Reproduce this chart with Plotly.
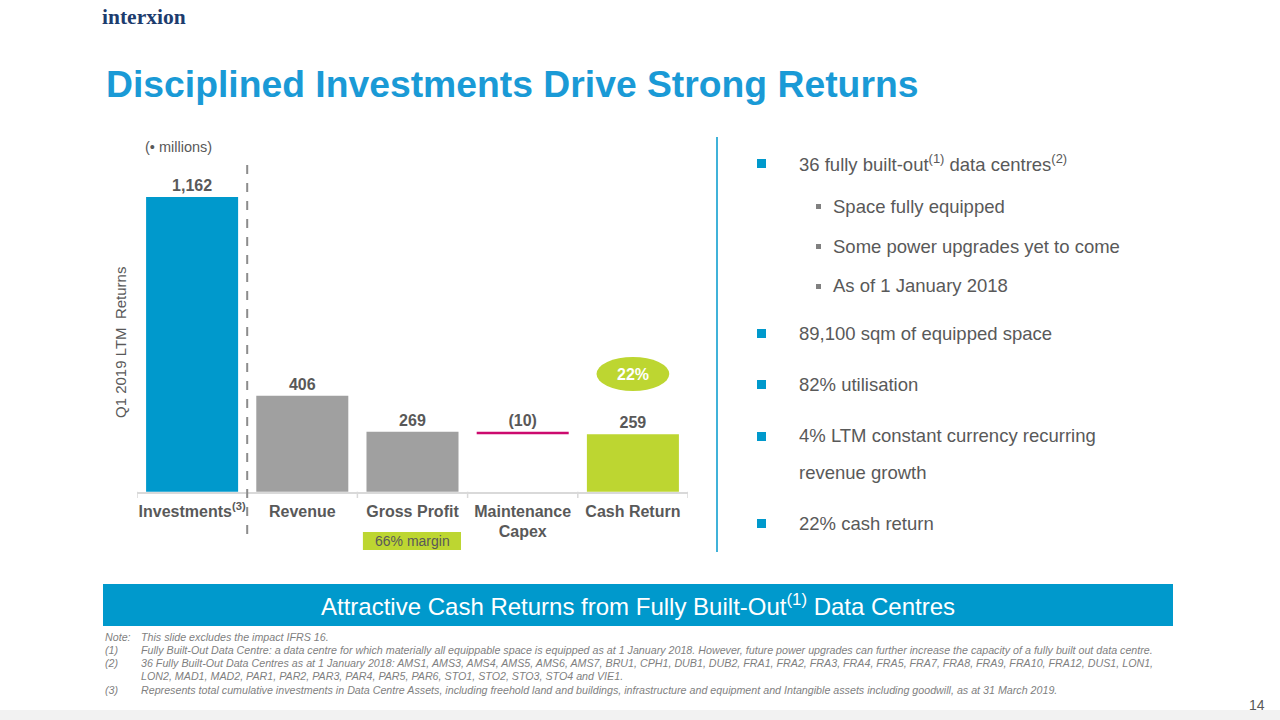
import plotly.graph_objects as go

# ---- data ----
categories = ["Investments<sup>(3)</sup>", "Revenue", "Gross Profit", "Maintenance<br>Capex", "Cash Return"]
values = [1162, 406, 269, 10, 259]
bases = [0, 0, 0, 259, 0]
labels = ["1,162", "406", "269", "(10)", "259"]
bar_colors = ["#0099CC", "#A0A0A0", "#A0A0A0", "#CC0A6E", "#BDD631"]

bullets = [
    ("main", "36 fully built-out<sup>(1)</sup> data centres<sup>(2)</sup>", 163),
    ("sub", "Space fully equipped", 206),
    ("sub", "Some power upgrades yet to come", 246),
    ("sub", "As of 1 January 2018", 286),
    ("main", "89,100 sqm of equipped space", 333),
    ("main", "82% utilisation", 384),
    ("main", "4% LTM constant currency recurring", 436),
    ("cont", "revenue growth", 472),
    ("main", "22% cash return", 523),
]

footnotes = [
    ("Note:", "This slide excludes the impact IFRS 16.", 637),
    ("(1)", "Fully Built-Out Data Centre: a data centre for which materially all equippable space is equipped as at 1 January 2018. However, future power upgrades can further increase the capacity of a fully built out data centre.", 650),
    ("(2)", "36 Fully Built-Out Data Centres as at 1 January 2018: AMS1, AMS3, AMS4, AMS5, AMS6, AMS7, BRU1, CPH1, DUB1, DUB2, FRA1, FRA2, FRA3, FRA4, FRA5, FRA7, FRA8, FRA9, FRA10, FRA12, DUS1, LON1,", 663),
    ("", "LON2, MAD1, MAD2, PAR1, PAR2, PAR3, PAR4, PAR5, PAR6, STO1, STO2, STO3, STO4 and VIE1.", 676),
    ("(3)", "Represents total cumulative investments in Data Centre Assets, including freehold land and buildings, infrastructure and equipment and Intangible assets including goodwill, as at 31 March 2019.", 690),
]

W, H = 1280, 720
FONT = "Liberation Sans, Arial, sans-serif"
GRAY = "#595959"

def px(x):
    return x / W

def py(y):
    return 1 - y / H

fig = go.Figure()
fig.add_trace(go.Bar(
    x=list(range(len(categories))), y=values, base=bases,
    marker=dict(color=bar_colors, line=dict(width=0)),
    text=[f"<b>{t}</b>" for t in labels], textposition="outside",
    textfont=dict(family=FONT, size=16, color=GRAY),
    cliponaxis=True, width=0.835, hoverinfo="skip",
))

fig.update_layout(
    width=W, height=H, margin=dict(l=0, r=0, t=0, b=0),
    paper_bgcolor="white", plot_bgcolor="white", showlegend=False,
    font=dict(family=FONT, color=GRAY),
    xaxis=dict(domain=[px(137), px(688)], tickmode="array",
               tickvals=list(range(len(categories))),
               ticktext=[f"<b>{c}</b>" for c in categories],
               tickfont=dict(family=FONT, size=16, color=GRAY),
               ticklabelstandoff=4,
               showline=True, linecolor="#D9D9D9", linewidth=1.5,
               ticks="", showgrid=False, zeroline=False,
               range=[-0.5, 4.5], fixedrange=True),
    yaxis=dict(domain=[py(491.7), py(165)], range=[40.7, 1284], visible=False,
               showgrid=False, zeroline=False, fixedrange=True),
)

shapes = []
# tick marks at category boundaries
for b in [-0.5, 0.5, 1.5, 2.5, 3.5, 4.5]:
    shapes.append(dict(type="line", xref="x", yref="paper", x0=b, x1=b,
                       y0=py(491.7), y1=py(498), line=dict(color="#D9D9D9", width=1.5)))
# dashed separator
shapes.append(dict(type="line", xref="x", yref="paper", x0=0.5, x1=0.5,
                   y0=py(165), y1=py(540), line=dict(color="#8C8C8C", width=2, dash="dash")))
# 22% oval
shapes.append(dict(type="circle", xref="x", yref="y", x0=3.67, x1=4.33, y0=424, y1=553,
                   fillcolor="#BDD631", line=dict(width=0)))
# 66% margin box
shapes.append(dict(type="rect", xref="x", yref="paper", x0=1.55, x1=2.44,
                   y0=py(550), y1=py(532), fillcolor="#BDD631", line=dict(width=0)))
# right vertical divider
shapes.append(dict(type="line", xref="paper", yref="paper", x0=px(717), x1=px(717),
                   y0=py(137), y1=py(552), line=dict(color="#0099CC", width=1.5)))
# bottom band
shapes.append(dict(type="rect", xref="paper", yref="paper", x0=px(103), x1=px(1173),
                   y0=py(626), y1=py(584), fillcolor="#0099CC", line=dict(width=0)))
# bottom strip
shapes.append(dict(type="rect", xref="paper", yref="paper", x0=0, x1=1,
                   y0=0, y1=py(710), fillcolor="#F2F2F2", line=dict(width=0)))
# bullet squares
for kind, text, y in bullets:
    if kind == "main":
        shapes.append(dict(type="rect", xref="paper", yref="paper", x0=px(757), x1=px(766),
                           y0=py(y + 5), y1=py(y - 4), fillcolor="#0099CC", line=dict(width=0)))
    elif kind == "sub":
        shapes.append(dict(type="rect", xref="paper", yref="paper", x0=px(816), x1=px(821),
                           y0=py(y + 3), y1=py(y - 2), fillcolor="#808080", line=dict(width=0)))

ann = []
def A(text, x, y, size, color=GRAY, xanchor="left", yanchor="middle", **kw):
    d = dict(text=text, x=px(x), y=py(y), xref="paper", yref="paper", showarrow=False,
             xanchor=xanchor, yanchor=yanchor, font=dict(family=kw.pop("family", FONT), size=size, color=color))
    d.update(kw)
    ann.append(d)

# logo
A("<b>interxion</b>", 100, 17, 21.5, color="#1D3C6E", family="Liberation Serif, DejaVu Serif, serif")
# title
A("<b>Disciplined Investments Drive Strong Returns</b>", 104, 84, 37.3, color="#1A9AD6")
# units
A("(• millions)", 143, 147, 14.5)
# y-axis title
A("Q1 2019 LTM  Returns", 120, 343, 15, xanchor="center", textangle=-90)
# oval text
ann.append(dict(text="<b>22%</b>", x=4, y=488, xref="x", yref="y", showarrow=False,
                font=dict(family=FONT, size=16, color="white")))
# margin text
ann.append(dict(text="66% margin", x=2, y=py(541), xref="x", yref="paper", showarrow=False,
                yanchor="middle", font=dict(family=FONT, size=14, color=GRAY)))

# bullets
for kind, text, y in bullets:
    if kind == "sub":
        A(text, 831, y, 18.5)
    else:
        A(text, 797, y, 18.5)

# band text
A("Attractive Cash Returns from Fully Built-Out<sup>(1)</sup> Data Centres", 638, 605, 24,
  color="white", xanchor="center")

# footnotes
for lab, text, y in footnotes:
    if lab:
        A(f"<i>{lab}</i>", 103, y, 10.7, color="#7F7F7F")
    A(f"<i>{text}</i>", 139, y, 10.7, color="#7F7F7F")

# page number
A("14", 1267, 705, 14, color=GRAY, xanchor="right")

fig.update_layout(shapes=shapes, annotations=ann)
fig.write_html("out.html", config={"displayModeBar": False},
               post_script="document.body.style.margin='0px';")
